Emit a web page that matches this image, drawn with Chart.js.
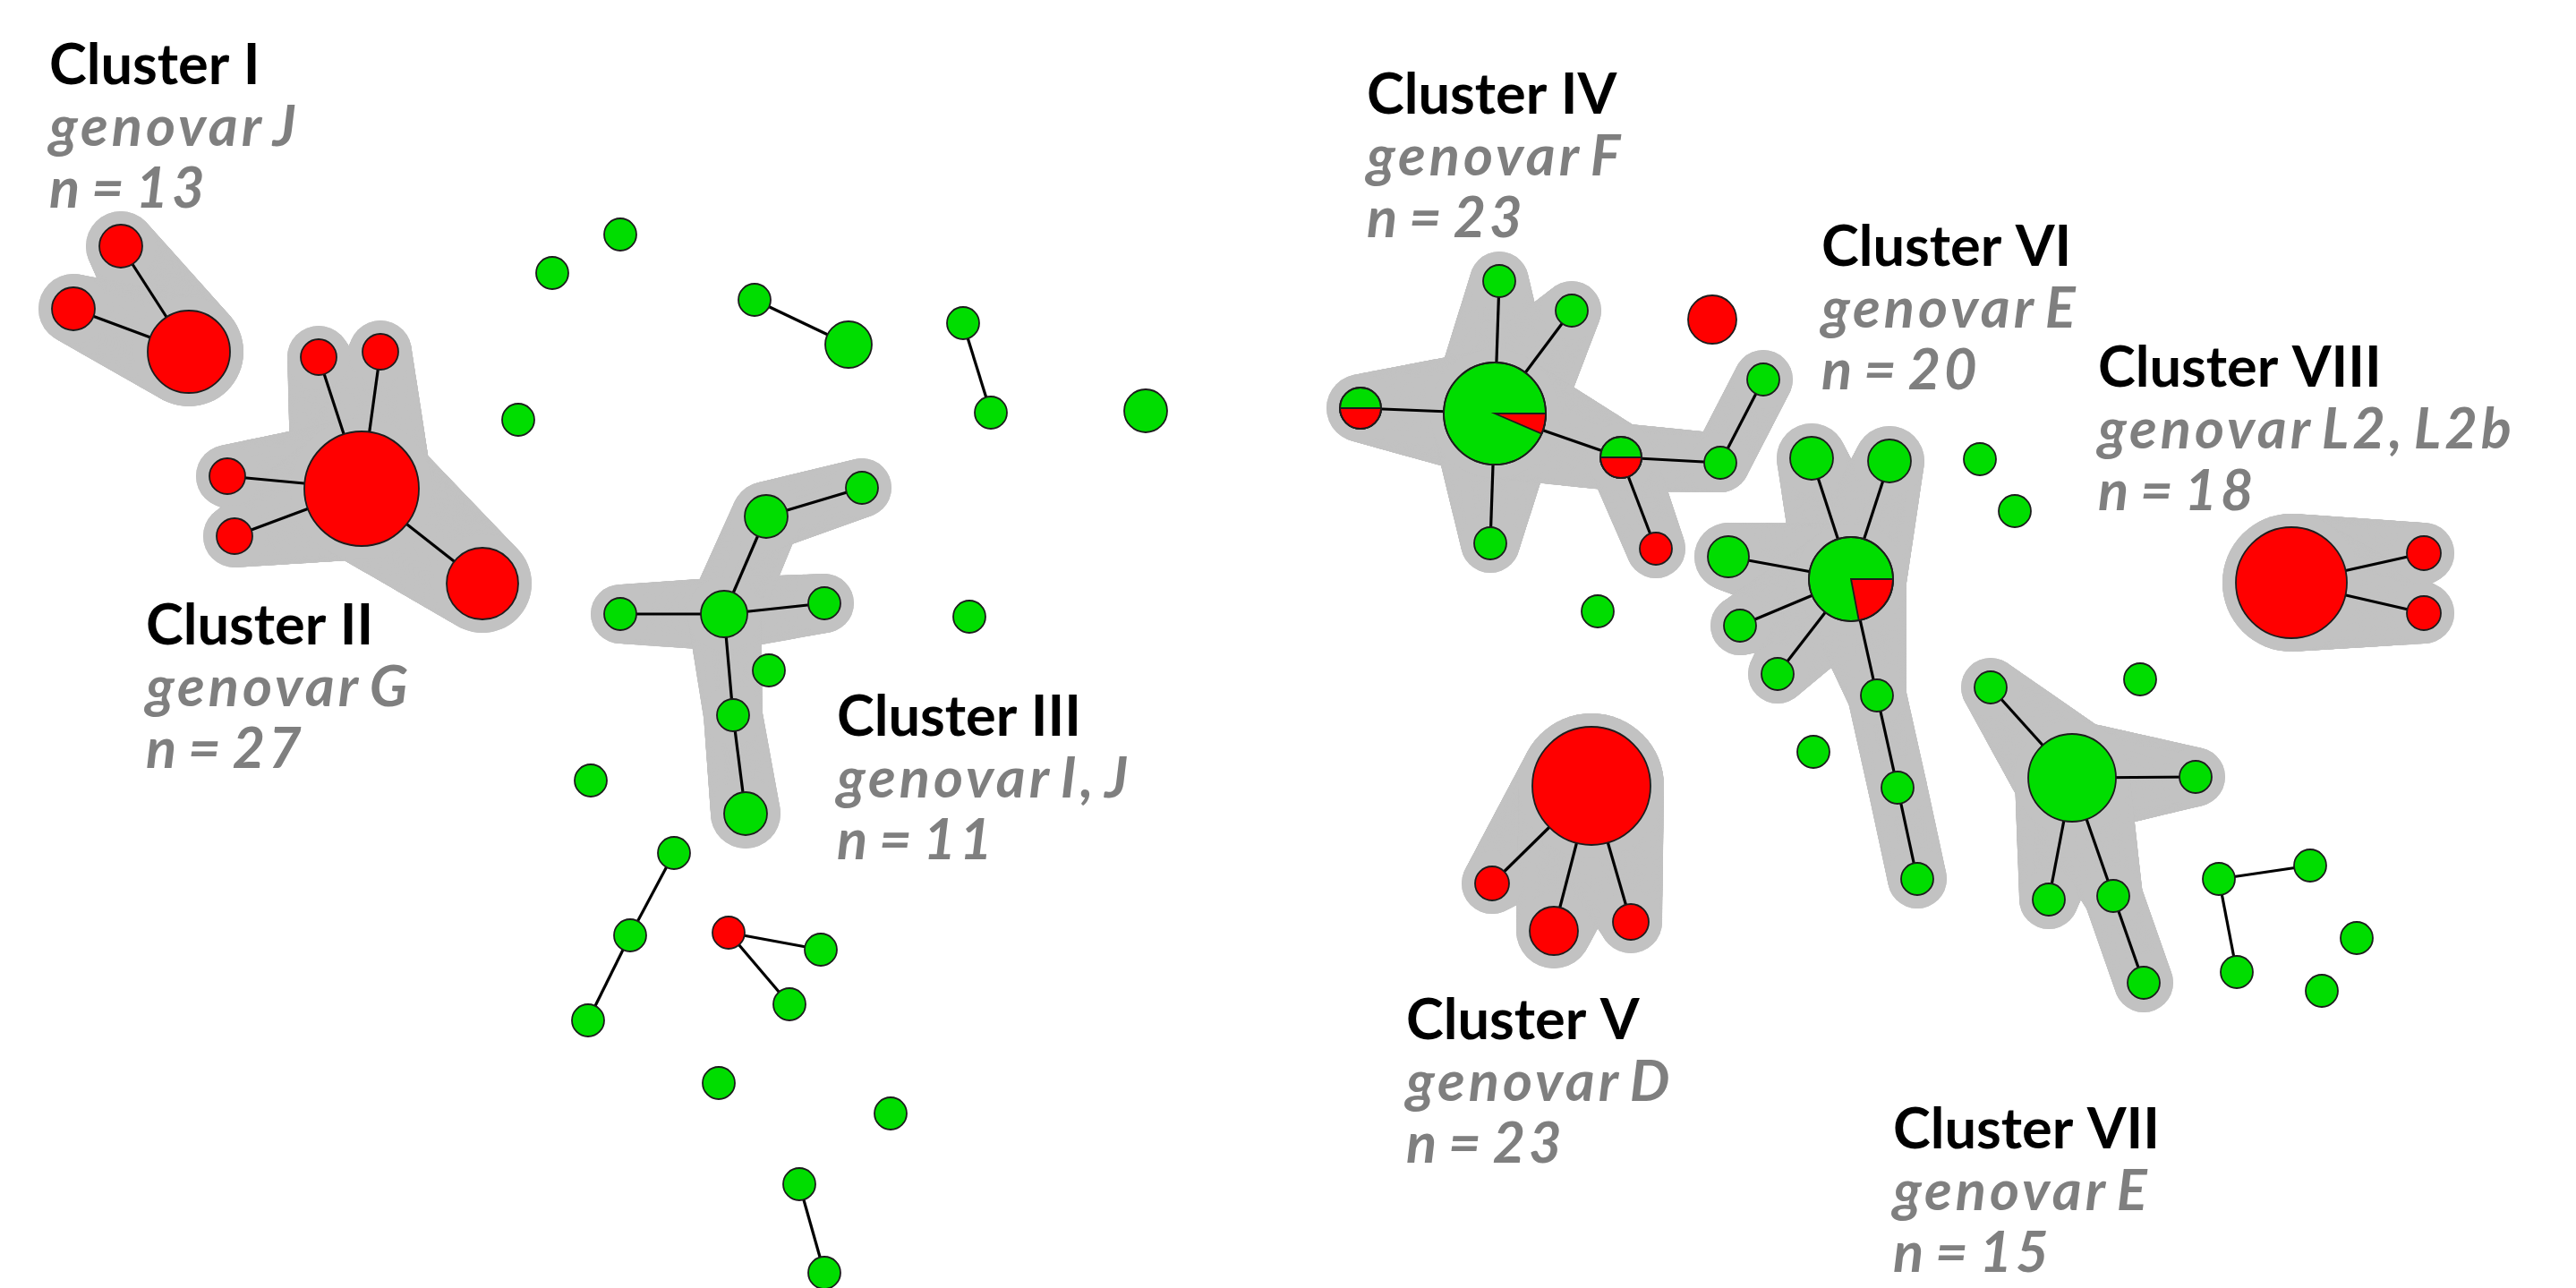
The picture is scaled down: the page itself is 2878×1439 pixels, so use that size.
<!DOCTYPE html>
<html><head><meta charset="utf-8">
<script src="https://cdn.jsdelivr.net/npm/chart.js@4.4.1/dist/chart.umd.min.js"></script>
<style>html,body{margin:0;padding:0;background:#fff;overflow:hidden}canvas{display:block}</style>
</head><body>
<canvas id="c" width="2878" height="1439"></canvas>
<script>
// ---- DATA (layout coordinates of the minimum spanning tree) ----
const nodeX = [135,82,211, 404,356,425,254,262,539, 617,693,579,843,948,1076,1107,1280,
  809,693,921,856,963,819,833, 859,1083,660,753,704,657,814,917,882,803,995,893,921,
  1670,1675,1756,1520,1665,1811,1922,1970,1850, 1778,1667,1736,1822,
  1913,1785,2212,2251,2026,2391,
  2068,2024,2111,1931,1944,1986,2097,2120,2142,
  2315,2224,2453,2289,2361,2395, 2560,2708,2708, 2479,2581,2499,2633,2594];
const nodeY = [275,345,393, 546,399,393,532,599,652, 305,262,469,335,385,361,461,459,
  686,686,674,577,545,799,909, 749,689,872,953,1045,1140,1042,1061,1122,1210,1244,1323,1422,
  462,314,347,456,607,511,517,424,613, 878,987,1040,1030,
  357,683,513,571,840,759,
  647,512,515,622,699,753,777,880,982,
  869,768,868,1005,1001,1098, 651,618,685, 982,967,1086,1048,1107];
const nodeSize = [24,24,46, 64,20,20,20,20,40, 18,18,18,18,26,18,18,24,
  26,18,18,24,18,18,24, 18,18,18,18,18,18,18,18,18,18,18,18,18,
  57,18,18,23,18,23,18,18,18, 66,19,27,20,
  27,18,18,18,18,18,
  47,24,24,23,18,18,18,18,18,
  49,18,18,18,18,18, 62,19,19, 18,18,18,18,18];
// share of red (genovar) isolates in each node: 0 = green only, 1 = red only
const nodeRedShare = [1,1,1, 1,1,1,1,1,1, 0,0,0,0,0,0,0,0,
  0,0,0,0,0,0,0, 0,0,0,0,0,0,1,0,0,0,0,0,0,
  0.065,0,0,0.5,0,0.5,0,0,1, 1,1,1,1,
  1,0,0,0,0,0,
  0.22,0,0,0,0,0,0,0,0,
  0,0,0,0,0,0, 1,1,1, 0,0,0,0,0];
const nodeCluster = [1,1,1, 2,2,2,2,2,2, 0,0,0,0,0,0,0,0,
  3,3,3,3,3,3,3, 0,0,0,0,0,0,0,0,0,0,0,0,0,
  4,4,4,4,4,4,4,4,4, 5,5,5,5,
  0,0,0,0,0,0,
  6,6,6,6,6,6,6,6,6,
  7,7,7,7,7,7, 8,8,8, 0,0,0,0,0];
const edgeFrom = [0,1, 3,3,3,3,3, 12,14, 17,17,17,20,17,22, 27,28,30,30,35,
  37,37,37,37,37,42,43,42, 46,46,46, 56,56,56,56,56,56,62,63,
  65,65,65,65,69, 71,71, 74,74];
const edgeTo = [2,2, 4,5,6,7,8, 13,15, 18,19,20,21,22,23, 28,29,31,32,36,
  38,39,40,41,42,43,44,45, 47,48,49, 57,58,59,60,61,62,63,64,
  66,67,68,69,70, 72,73, 75,76];

const clusterNames = ['Cluster I','Cluster II','Cluster III','Cluster IV','Cluster V','Cluster VI','Cluster VII','Cluster VIII'];
const clusterGenovars = ['genovar J','genovar G','genovar I, J','genovar F','genovar D','genovar E','genovar E','genovar L2, L2b'];
const clusterCounts = [13,27,11,23,23,20,15,18];
const labelX = [55,163,935,1527,1571,2035,2115,2344];
const labelY = [94,720,822,127,1161,297,1283,432];

// ---- STYLE ----
const RED = '#ff0000', GREEN = '#00dd00', HALO = '#c2c2c2', OUTLINE = '#1c1c1c';
const HALO_MARGIN = 15, LINE_GAP = 69;

const haloPlugin = {
  id: 'halo',
  beforeDatasetsDraw(chart) {
    const ctx = chart.ctx, meta = chart.getDatasetMeta(0);
    ctx.save();
    ctx.fillStyle = HALO;
    const circ = (x, y, r) => { ctx.beginPath(); ctx.arc(x, y, r, 0, Math.PI * 2); ctx.fill(); };
    edgeFrom.forEach((a, k) => {
      const b = edgeTo[k];
      if (!nodeCluster[a] || nodeCluster[a] !== nodeCluster[b]) return;
      const A = meta.data[a], B = meta.data[b];
      const ra = A.options.radius + HALO_MARGIN, rb = B.options.radius + HALO_MARGIN;
      const d = Math.hypot(B.x - A.x, B.y - A.y), n = Math.ceil(d / 1.5);
      for (let i = 0; i <= n; i++) {
        const t = i / n;
        circ(A.x + (B.x - A.x) * t, A.y + (B.y - A.y) * t, ra + (rb - ra) * t);
      }
    });
    meta.data.forEach((el, i) => { if (nodeCluster[i]) circ(el.x, el.y, el.options.radius + HALO_MARGIN); });
    ctx.restore();
  }
};

const piePlugin = {
  id: 'pie',
  afterDatasetsDraw(chart) {
    const ctx = chart.ctx, meta = chart.getDatasetMeta(0);
    ctx.save();
    meta.data.forEach((el, i) => {
      const s = nodeRedShare[i];
      if (s <= 0 || s >= 1) return;
      const r = el.options.radius;
      ctx.beginPath();
      ctx.moveTo(el.x, el.y);
      ctx.arc(el.x, el.y, r, 0, Math.PI * 2 * s);
      ctx.closePath();
      ctx.fillStyle = RED; ctx.fill();
      ctx.lineWidth = 1.8; ctx.strokeStyle = OUTLINE; ctx.stroke();
      ctx.beginPath(); ctx.arc(el.x, el.y, r, 0, Math.PI * 2); ctx.stroke();
    });
    ctx.restore();
  }
};

const labelPlugin = {
  id: 'labels',
  afterDraw(chart) {
    const ctx = chart.ctx, xs = chart.scales.x, ys = chart.scales.y;
    ctx.save();
    ctx.font = 'bold 100px Lato';
    const fs = 100 * 273 / ctx.measureText('Cluster III').width;
    ctx.textBaseline = 'alphabetic';
    ctx.textAlign = 'left';
    clusterNames.forEach((name, i) => {
      const px = xs.getPixelForValue(labelX[i]), py = ys.getPixelForValue(labelY[i]);
      ctx.font = `bold ${fs}px Lato`;
      ctx.letterSpacing = '0px';
      ctx.wordSpacing = '0px';
      ctx.fillStyle = '#000000';
      ctx.fillText(name, px, py);
      ctx.font = `italic bold ${fs}px Lato`;
      ctx.letterSpacing = '4px';
      ctx.wordSpacing = '-9px';
      ctx.fillStyle = '#7f7f7f';
      ctx.fillText(clusterGenovars[i], px, py + LINE_GAP);
      ctx.fillText('n = ' + clusterCounts[i], px, py + 2 * LINE_GAP);
    });
    ctx.restore();
  }
};

const nodeDataset = {
  type: 'bubble',
  order: 0,
  clip: false,
  data: nodeX.map((x, i) => ({ x: x, y: nodeY[i], r: nodeSize[i] })),
  backgroundColor: nodeRedShare.map(s => s >= 1 ? RED : GREEN),
  borderColor: OUTLINE,
  borderWidth: 1.8,
  hoverRadius: 0
};
const edgeDatasets = edgeFrom.map((a, k) => ({
  type: 'line',
  order: 1,
  clip: false,
  data: [{ x: nodeX[a], y: nodeY[a] }, { x: nodeX[edgeTo[k]], y: nodeY[edgeTo[k]] }],
  borderColor: '#000000',
  borderWidth: 3.2,
  pointRadius: 0,
  fill: false,
  tension: 0
}));

new Chart(document.getElementById('c'), {
  type: 'bubble',
  data: { datasets: [nodeDataset, ...edgeDatasets] },
  options: {
    responsive: false,
    devicePixelRatio: 1,
    animation: false,
    events: [],
    layout: { padding: 0, autoPadding: false },
    plugins: { legend: { display: false }, tooltip: { enabled: false } },
    scales: {
      x: { type: 'linear', display: false, min: 0, max: 2878 },
      y: { type: 'linear', display: false, min: 0, max: 1439, reverse: true }
    }
  },
  plugins: [haloPlugin, piePlugin, labelPlugin]
});
</script>
</body></html>
